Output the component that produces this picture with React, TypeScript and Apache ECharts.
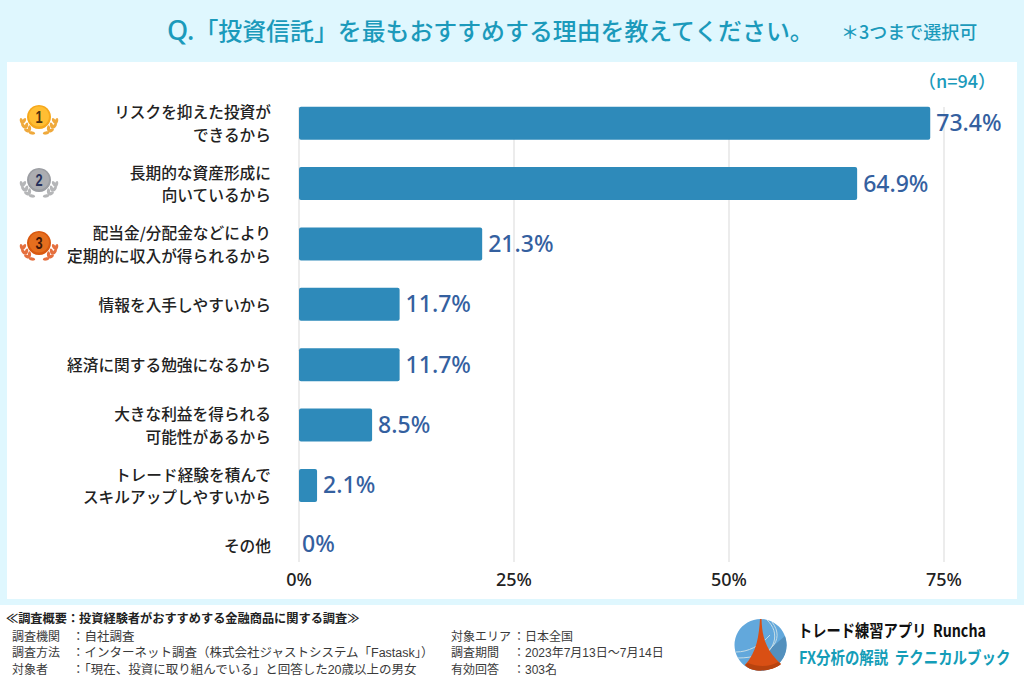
import React, { useEffect, useRef } from "react";
import * as echarts from "echarts";

const categories = [
  "リスクを抑えた投資が\nできるから",
  "長期的な資産形成に\n向いているから",
  "配当金/分配金などにより\n定期的に収入が得られるから",
  "情報を入手しやすいから",
  "経済に関する勉強になるから",
  "大きな利益を得られる\n可能性があるから",
  "トレード経験を積んで\nスキルアップしやすいから",
  "その他",
];
const values = [73.4, 64.9, 21.3, 11.7, 11.7, 8.5, 2.1, 0];
const valueLabels = ["73.4%", "64.9%", "21.3%", "11.7%", "11.7%", "8.5%", "2.1%", "0%"];
const footLeft = [
  ["調査機関", "：自社調査"],
  ["調査方法", "：インターネット調査（株式会社ジャストシステム「Fastask」）"],
  ["対象者", "：「現在、投資に取り組んでいる」と回答した20歳以上の男女"],
];
const footRight = [
  ["対象エリア", "：日本全国"],
  ["調査期間", "：2023年7月13日〜7月14日"],
  ["有効回答", "：303名"],
];
const medals = [
  { n: "1", y: 117, main: "#F6A81C", light: "#FFBE33", leaf: "#EFA93C", ink: "#4A3010" },
  { n: "2", y: 180, main: "#9C9EA3", light: "#ACADB1", leaf: "#B5B6B8", ink: "#25305A" },
  { n: "3", y: 243, main: "#D9580F", light: "#E56E1E", leaf: "#E56F3E", ink: "#3E1608" },
];

const CJK = '"Noto Sans CJK JP","Noto Sans",sans-serif';
const FOOT = '"Liberation Sans","Noto Sans CJK JP",sans-serif';

function medal(m: (typeof medals)[number]) {
  const cx = 39;
  const leaves: any[] = [];
  const spots = [
    [17.5, 4, -15], [15, 4, 30], [15.5, 9, -40], [12.5, 8.5, 15], [12, 13.5, -60], [9.5, 11.5, 0], [7, 16, -80],
  ];
  spots.forEach(([dx, dy, rot]) => {
    [-1, 1].forEach((s) => {
      leaves.push({
        type: "ellipse",
        shape: { cx: 0, cy: 0, rx: 1.6, ry: 3.2 },
        x: cx + s * dx,
        y: m.y + dy,
        rotation: (s * rot * Math.PI) / 180,
        style: { fill: m.leaf },
      });
    });
  });
  return [
    ...leaves,
    { type: "circle", shape: { cx, cy: m.y, r: 12 }, style: { fill: m.main } },
    { type: "circle", shape: { cx, cy: m.y - 0.5, r: 10 }, style: { fill: m.light } },
    {
      type: "text",
      x: cx,
      y: m.y,
      scaleX: 0.8,
      style: {
        text: m.n,
        fill: m.ink,
        font: 'bold 16px "Liberation Sans",sans-serif',
        align: "center",
        verticalAlign: "middle",
      },
    },
  ];
}

function footText(x: number, y: number, text: string, size: number) {
  return {
    type: "text",
    x,
    y,
    style: {
      text,
      fill: "#3a3a3a",
      font: `${size}px ${FOOT}`,
      verticalAlign: "middle",
    },
  };
}

const TOWER = "M760 619 L761.5 619 C762 635 765 650 781 664 C771 672 752 673 745 665 C757 652 759 635 760 619 Z";
const BASE = "M748 663 C758 667 770 667 778 662 L781 664 C771 672 752 673 745 665 Z";
const SHADE = "M785 636 A26 26 0 0 1 773 668 L765 653 Z";

function arc(x1: number, y1: number, cx1: number, cy1: number, cx2: number, cy2: number, x2: number, y2: number) {
  return {
    type: "bezierCurve",
    shape: { x1, y1, cpx1: cx1, cpy1: cy1, cpx2: cx2, cpy2: cy2, x2, y2 },
    style: { stroke: "#C6DDE6", lineWidth: 1, fill: "none" },
  };
}

function categoryItem(c: string, i: number) {
  if (i === categories.length - 1) return { value: c, textStyle: { padding: [0, 0, 10, 0] } };
  if (c.includes("\n")) return { value: c, textStyle: { padding: [2, 0, 0, 0] } };
  return c;
}

export default function App() {
  const ref = useRef<HTMLDivElement>(null);
  useEffect(() => {
    if (!ref.current) return;
    echarts.graphic.registerShape("towerShape", echarts.graphic.extendPath(TOWER, {}) as any);
    echarts.graphic.registerShape("baseShape", echarts.graphic.extendPath(BASE, {}) as any);
    echarts.graphic.registerShape("shadeShape", echarts.graphic.extendPath(SHADE, {}) as any);
    const chart = echarts.init(ref.current, null, { renderer: "svg" });
    const footer: any[] = [];
    footLeft.forEach((r, i) => {
      const y = 636.5 + i * 16.7;
      footer.push(footText(12, y, r[0], 12));
      footer.push(footText(72, y, r[1], 12.5));
    });
    footRight.forEach((r, i) => {
      const y = 636.5 + i * 16.7;
      footer.push(footText(451, y, r[0], 12));
      footer.push(footText(513, y, r[1], 12));
    });
    chart.setOption({
      animation: false,
      backgroundColor: "#ffffff",
      title: {
        text: "{q|Q.}{m|「投資信託」を最もおすすめする理由を教えてください。}",
        left: 167,
        top: 16,
        padding: 0,
        textStyle: {
          rich: {
            q: { color: "#1B9ABB", fontSize: 27, fontWeight: 500, fontFamily: '"Noto Sans",sans-serif' },
            m: { color: "#1B9ABB", fontSize: 23.9, fontWeight: 500, fontFamily: CJK },
          },
        },
      },
      grid: [
        { left: 299, width: 645, top: 93, height: 483 },
        { left: 299, width: 645, top: 107, height: 455 },
      ],
      xAxis: [
        {
          type: "value",
          gridIndex: 0,
          min: 0,
          max: 75,
          interval: 25,
          axisLine: { show: false },
          axisTick: { show: false },
          splitLine: { show: false },
          axisLabel: { show: false },
        },
        {
          type: "value",
          gridIndex: 1,
          min: 0,
          max: 75,
          interval: 25,
          z: 0,
          axisLine: { show: false },
          axisTick: { show: false },
          splitLine: { lineStyle: { color: "#E6E6E6", width: 1.5 } },
          axisLabel: {
            formatter: "{value}%",
            color: "#222222",
            fontSize: 18,
            fontWeight: 500,
            margin: 8,
            fontFamily: '"Noto Sans",sans-serif',
          },
        },
      ],
      yAxis: [
        {
          type: "category",
          gridIndex: 0,
          inverse: true,
          data: categories.map(categoryItem),
          axisLine: { show: false },
          axisTick: { show: false },
          axisLabel: {
            color: "#222222",
            fontSize: 15.7,
            fontWeight: 500,
            lineHeight: 22.5,
            margin: 28,
            align: "right",
            fontFamily: CJK,
          },
        },
        {
          type: "value",
          gridIndex: 1,
          show: false,
          min: 0,
          max: 1,
        },
      ],
      series: [
        {
          type: "bar",
          xAxisIndex: 0,
          yAxisIndex: 0,
          data: values.map((v, i) =>
            i === values.length - 1 ? { value: v, label: { offset: [-3, -3] } } : v
          ),
          barWidth: 33,
          z: 5,
          itemStyle: {
            color: "#2E8ABA",
            borderRadius: 2,
          },
          label: {
            show: true,
            position: "right",
            distance: 6,
            offset: [0, -1],
            color: "#34609F",
            fontSize: 23,
            fontWeight: 500,
            fontFamily: '"Noto Sans",sans-serif',
            formatter: (p: any) => valueLabels[p.dataIndex],
          },
        },
      ],
      graphic: [
        { type: "rect", z: -10, shape: { x: 0, y: 0, width: 1024, height: 62 }, style: { fill: "#DFF7FE" } },
        { type: "rect", z: -10, shape: { x: 0, y: 62, width: 7, height: 543 }, style: { fill: "#DFF7FE" } },
        { type: "rect", z: -10, shape: { x: 1017, y: 62, width: 7, height: 543 }, style: { fill: "#DFF7FE" } },
        { type: "rect", z: -10, shape: { x: 0, y: 599, width: 1024, height: 6 }, style: { fill: "#DFF7FE" } },
        {
          type: "text",
          x: 841,
          y: 31,
          style: { text: "＊3つまで選択可", fill: "#1B9ABB", font: `500 18px ${CJK}`, verticalAlign: "middle" },
        },
        {
          type: "text",
          x: 957,
          y: 80,
          style: { text: "（n=94）", fill: "#1B9ABB", font: `500 18px ${CJK}`, verticalAlign: "middle", align: "center" },
        },
        ...medals.flatMap(medal),
        {
          type: "text",
          x: 6,
          y: 618,
          style: {
            text: "≪調査概要：投資経験者がおすすめする金融商品に関する調査≫",
            fill: "#222222",
            font: `bold 12.2px ${CJK}`,
            verticalAlign: "middle",
          },
        },
        ...footer,
        { type: "circle", shape: { cx: 760.5, cy: 645, r: 26 }, style: { fill: "#62A8DC" } },
        { type: "shadeShape", style: { fill: "#5390BD" } },
        arc(767, 620, 780, 632, 778, 652, 750, 664),
        arc(772, 622, 786, 640, 770, 658, 738, 658),
        arc(736, 652, 748, 652, 760, 646, 770, 635),
        { type: "towerShape", style: { fill: "#D94F14" } },
        { type: "baseShape", style: { fill: "#B8430F" } },
        { type: "text", x: 798, y: 630, scaleX: 0.84, style: { text: "トレード練習アプリ  Runcha", fill: "#111111", font: `bold 17px ${CJK}`, verticalAlign: "middle" } },
        { type: "text", x: 799, y: 657, scaleX: 0.85, style: { text: "FX分析の解説  テクニカルブック", fill: "#149DB8", font: `bold 17px ${CJK}`, verticalAlign: "middle" } },
      ],
    });
    return () => chart.dispose();
  }, []);
  return <div ref={ref} style={{ width: 1024, height: 683, position: "fixed", left: 0, top: 0 }} />;
}
